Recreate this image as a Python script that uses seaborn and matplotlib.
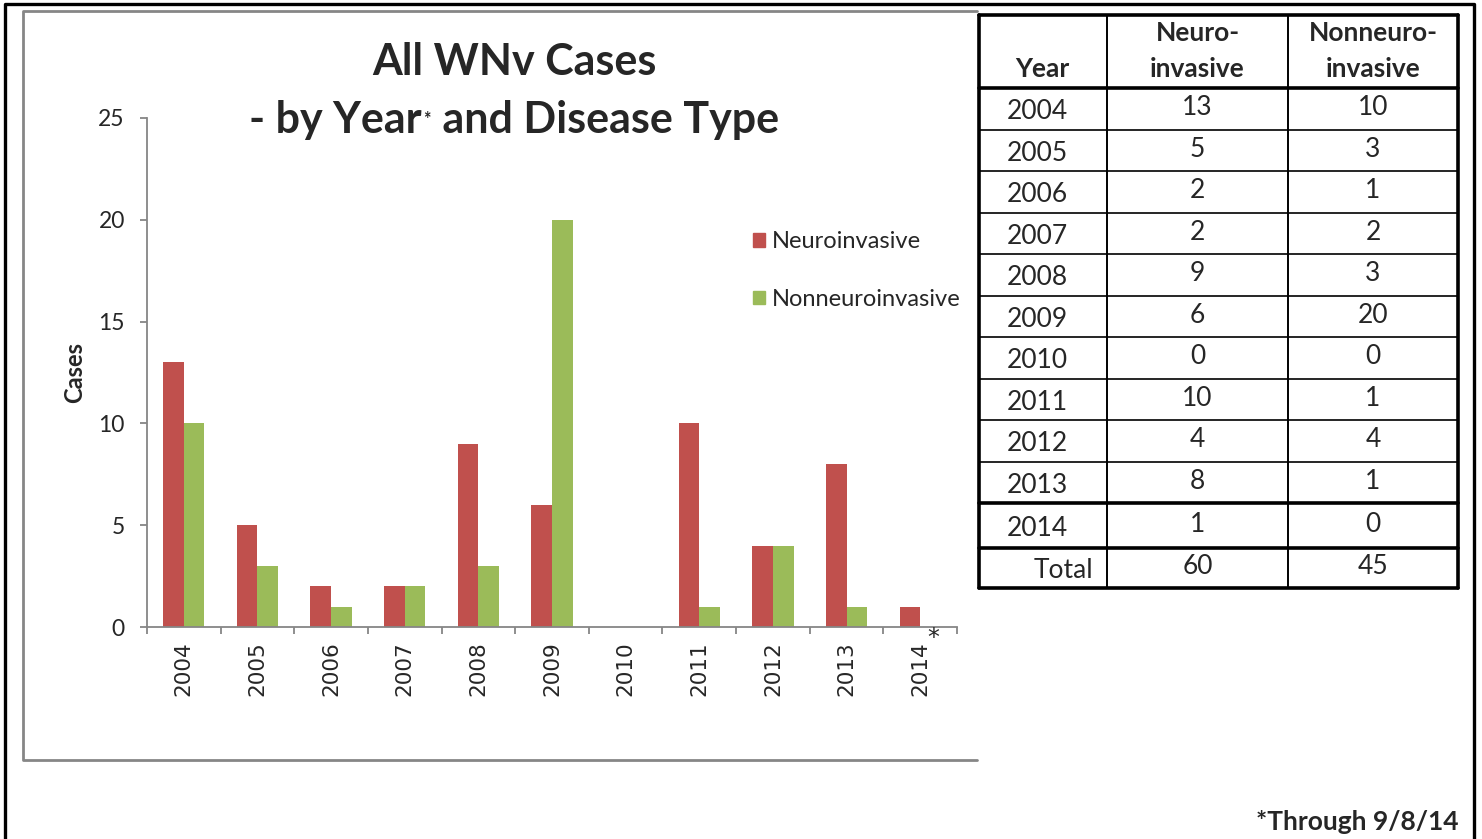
import matplotlib
matplotlib.use('Agg')
import matplotlib.pyplot as plt
import seaborn as sns
import pandas as pd
from matplotlib.lines import Line2D
from matplotlib.patches import Rectangle
from matplotlib.offsetbox import TextArea, HPacker, AnnotationBbox

# data
years = ['2004', '2005', '2006', '2007', '2008', '2009', '2010', '2011', '2012', '2013', '2014']
neuro = [13, 5, 2, 2, 9, 6, 0, 10, 4, 8, 1]
nonneuro = [10, 3, 1, 2, 3, 20, 0, 1, 4, 1, 0]
types = ['Neuroinvasive', 'Nonneuroinvasive']
colors = ['#C0504D', '#9BBB59']
yticks = [0, 5, 10, 15, 20, 25]

df = pd.DataFrame({
    'Year': years * 2,
    'Type': [types[0]] * len(years) + [types[1]] * len(years),
    'Cases': neuro + nonneuro,
})

sns.set_style('white')
plt.rcParams['font.family'] = ['Lato', 'DejaVu Sans']
GRAY = '#868686'

W, H = 1482, 839
fig = plt.figure(figsize=(W / 100, H / 100), dpi=100)

# chart axes (pixel box: x 147..957, y 118..627)
ax = fig.add_axes([147 / W, (H - 627) / H, (957 - 147) / W, (627 - 118) / H])
sns.barplot(data=df, x='Year', y='Cases', hue='Type', palette=colors, width=0.56,
            gap=0, saturation=1, ax=ax, legend=False, linewidth=0)
ax.set_xlim(-0.5, len(years) - 0.5)
ax.set_ylim(0, 25)
ax.set_yticks(yticks)
ax.set_xlabel('')
ax.set_ylabel('Cases', fontsize=17, fontweight='bold', labelpad=9)
for s in ['top', 'right']:
    ax.spines[s].set_visible(False)
for s in ['left', 'bottom']:
    ax.spines[s].set_color(GRAY)
    ax.spines[s].set_linewidth(1.3)
ax.tick_params(axis='y', length=5, width=1.3, color=GRAY, direction='out', pad=11,
               labelsize=16.5, left=True)
ax.set_xticks(range(len(years)))
ax.set_xticklabels(years, rotation=90, fontsize=15.5, family='DejaVu Sans')
ax.tick_params(axis='x', which='major', length=0, pad=10, bottom=True)
ax.set_xticks([i - 0.5 for i in range(len(years) + 1)], minor=True)
ax.tick_params(axis='x', which='minor', length=5, width=1.3, color=GRAY, direction='out', bottom=True)

handles = [Rectangle((0, 0), 1, 1, color=c) for c in colors]
fig.legend(handles, types, loc='upper left', bbox_to_anchor=(744 / W, 1 - 222 / H),
           frameon=False, fontsize=17, handlelength=0.5, handleheight=0.5,
           handletextpad=0.3, labelspacing=1.55, borderaxespad=0)

# overlay in pixel coordinates for frames, title and table
ov = fig.add_axes([0, 0, 1, 1], zorder=-1)
ov.set_xlim(0, W)
ov.set_ylim(H, 0)
ov.axis('off')
ov2 = fig.add_axes([0, 0, 1, 1], zorder=5)
ov2.set_xlim(0, W)
ov2.set_ylim(H, 0)
ov2.axis('off')
ov2.patch.set_alpha(0)

# outer black frame and gray chart frame
ov2.add_line(Line2D([5, 5, 1474, 1474], [845, 4, 4, 845], color='black', lw=2.4))
ov.add_line(Line2D([977, 23, 23, 977], [11, 11, 760, 760], color=GRAY, lw=2))

ov2.text(514, 62, 'All WNv Cases', ha='center', va='center', fontsize=31, fontweight='bold')
tprops = dict(fontsize=31, fontweight='bold')
line2 = HPacker(children=[TextArea('- by Year', textprops=tprops),
                          TextArea('*', textprops=dict(fontsize=13, fontweight='bold')),
                          TextArea(' and Disease Type', textprops=tprops)],
                align='center', pad=0, sep=1)
ov2.add_artist(AnnotationBbox(line2, (514, 120), frameon=False, box_alignment=(0.5, 0.5)))
ov2.text(933, 638, '*', ha='center', va='center', fontsize=17, family='DejaVu Sans')

# table
tl, c1, c2, tr = 979, 1107, 1288, 1458
row_edges = [15, 88] + [88 + 41.5 * (i + 1) for i in range(10)] + [548, 588]
thick = {0, 1, 11, 12, 13}
for i, yv in enumerate(row_edges):
    ov2.add_line(Line2D([tl, tr], [yv, yv], color='black', lw=2.6 if i in thick else 1.2))
for xv, lw in [(tl, 2.6), (c1, 1.4), (c2, 1.4), (tr, 2.6)]:
    ov2.add_line(Line2D([xv, xv], [row_edges[0], row_edges[-1]], color='black', lw=lw))

tfs = 19
ov2.text(1042, 69, 'Year', ha='center', va='center', fontsize=tfs, fontweight='bold')
ov2.text((c1 + c2) / 2, 33, 'Neuro-', ha='center', va='center', fontsize=tfs, fontweight='bold')
ov2.text((c1 + c2) / 2, 69, 'invasive', ha='center', va='center', fontsize=tfs, fontweight='bold')
ov2.text((c2 + tr) / 2, 33, 'Nonneuro-', ha='center', va='center', fontsize=tfs, fontweight='bold')
ov2.text((c2 + tr) / 2, 69, 'invasive', ha='center', va='center', fontsize=tfs, fontweight='bold')
for i, yr in enumerate(years):
    top, bot = row_edges[i + 1], row_edges[i + 2]
    mid = (top + bot) / 2
    ov2.text(1037, mid + 3, yr, ha='center', va='center', fontsize=tfs)
    ov2.text((c1 + c2) / 2, mid - 1, str(neuro[i]), ha='center', va='center', fontsize=tfs)
    ov2.text((c2 + tr) / 2, mid - 1, str(nonneuro[i]), ha='center', va='center', fontsize=tfs)
mid = (row_edges[-2] + row_edges[-1]) / 2
ov2.text(1093, mid + 3, 'Total', ha='right', va='center', fontsize=tfs)
ov2.text((c1 + c2) / 2, mid - 1, str(sum(neuro)), ha='center', va='center', fontsize=tfs)
ov2.text((c2 + tr) / 2, mid - 1, str(sum(nonneuro)), ha='center', va='center', fontsize=tfs)

ov2.text(1458, 822, '*Through 9/8/14', ha='right', va='center', fontsize=19, fontweight='bold')

fig.savefig('out.png', dpi=100)
